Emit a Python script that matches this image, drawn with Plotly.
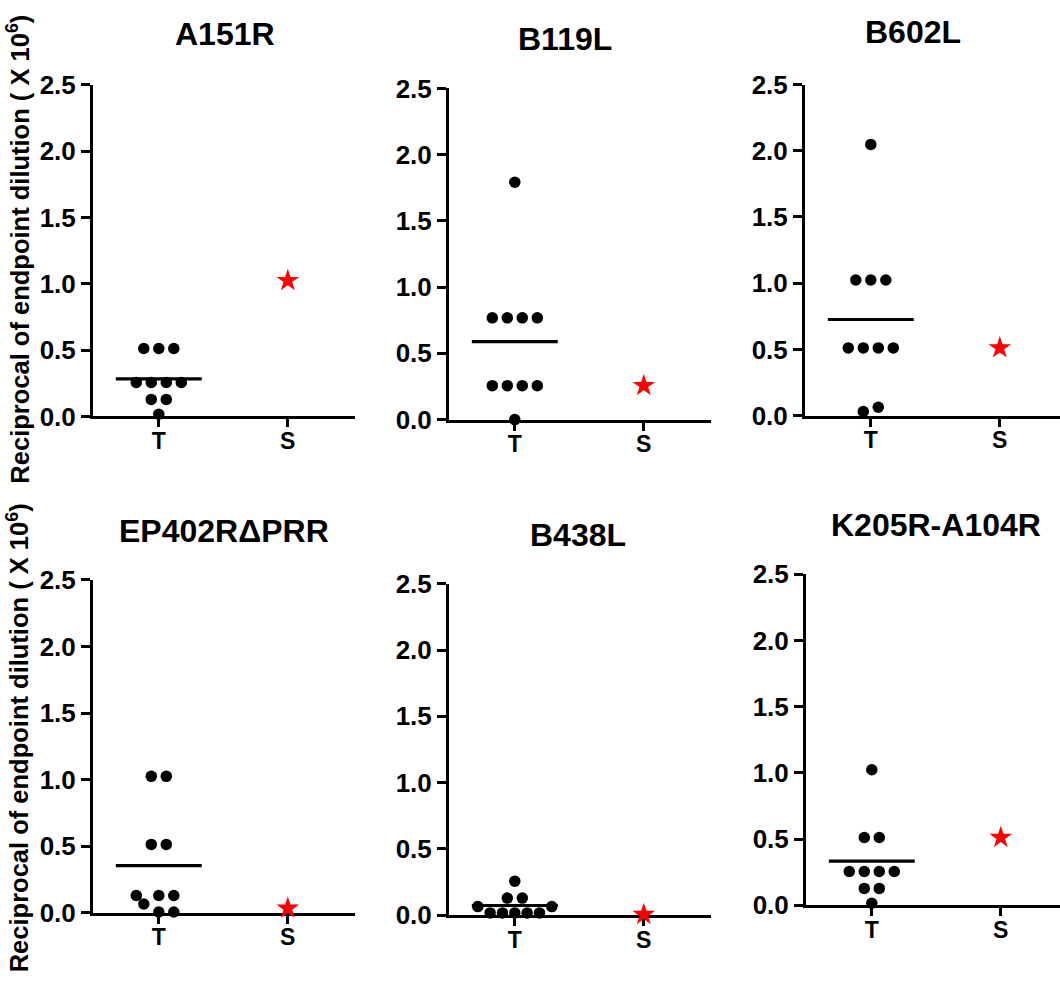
import numpy as np
import plotly.graph_objects as go

# ---------------- data ----------------
panel_titles = ["A151R", "B119L", "B602L", "EP402RΔPRR", "B438L", "K205R-A104R"]
group_labels = ["T", "S"]
y_ticks = [0.0, 0.5, 1.0, 1.5, 2.0, 2.5]

t_A151R = [0.512, 0.512, 0.512, 0.256, 0.256, 0.256, 0.256, 0.128, 0.128, 0.016]
s_A151R = [1.024]
t_B119L = [1.792, 0.768, 0.768, 0.768, 0.768, 0.256, 0.256, 0.256, 0.256, 0.0]
s_B119L = [0.256]
t_B602L = [2.048, 1.024, 1.024, 1.024, 0.512, 0.512, 0.512, 0.512, 0.064, 0.032]
s_B602L = [0.512]
t_EP402R = [1.024, 1.024, 0.512, 0.512, 0.128, 0.128, 0.128, 0.064, 0.004, 0.004]
s_EP402R = [0.032]
t_B438L = [0.256, 0.128, 0.128, 0.064, 0.064, 0.016, 0.016, 0.016, 0.016, 0.016]
s_B438L = [0.004]
t_K205R = [1.024, 0.512, 0.512, 0.256, 0.256, 0.256, 0.256, 0.128, 0.128, 0.016]
s_K205R = [0.512]

t_values = [t_A151R, t_B119L, t_B602L, t_EP402R, t_B438L, t_K205R]
s_values = [s_A151R, s_B119L, s_B602L, s_EP402R, s_B438L, s_K205R]

# ---------------- layout (pixels) ----------------
W, H = 1060, 986
# (y-axis x, x-axis right end, y of 2.5, y of 0)
boxes = [
    (93, 355, 72, 414),
    (449, 711, 75.7, 417.3),
    (805, 1060, 71.7, 413.3),
    (93, 355, 582.7, 925.7),
    (449, 711, 586.7, 928.3),
    (806, 1060, 576.7, 918.3),
]
title_pos = [(225, 20), (565, 25), (913, 18), (224, 532), (578, 536), (936, 526)]
PX_PER_UNIT_X = 129.0
X_LEFT = -0.51
FONT = "Liberation Sans, Arial, sans-serif"


def swarm(values, ypx, s=15.0, maxspan=74.0, D=11.0, thr=0.09):
    vals = np.asarray(values, dtype=float)
    order = np.argsort(vals, kind="stable")
    rows = []
    for idx in order:
        if rows and vals[idx] - vals[rows[-1][0]] <= thr:
            rows[-1].append(idx)
        else:
            rows.append([idx])
    placed = []
    offs = np.zeros(len(vals))
    for row in rows:
        n = len(row)
        sp = s if n <= 1 else min(s, maxspan / (n - 1))
        if n % 2:
            slots = [0]
            k = 1
            while len(slots) < n:
                slots += [k, -k]
                k += 1
        else:
            slots = []
            k = 0.5
            while len(slots) < n:
                slots += [-k, k]
                k += 1
        for idx, kk in zip(row, slots[:n]):
            x = kk * sp
            y = vals[idx] * ypx
            sgn = 1.0 if kk >= 0 else -1.0
            while any(np.hypot(x - px, y - py) < D for px, py in placed):
                x += sgn * sp / 2
            placed.append((x, y))
            offs[idx] = x
    return offs / PX_PER_UNIT_X


fig = go.Figure()
for i in range(6):
    x0, x1, yt, yb = boxes[i]
    sfx = "" if i == 0 else str(i + 1)
    xa, ya = "x" + sfx, "y" + sfx
    ypx = (yb - yt) / 2.5
    tv = t_values[i]
    offs = swarm(tv, ypx)
    fig.add_trace(go.Scatter(
        x=0 + offs, y=tv, mode="markers", xaxis=xa, yaxis=ya,
        marker=dict(color="black", size=11.5, line=dict(width=0)),
        cliponaxis=False, showlegend=False, hoverinfo="skip"))
    m = float(np.mean(tv))
    fig.add_trace(go.Scatter(
        x=[-0.333, 0.333], y=[m, m], mode="lines", xaxis=xa, yaxis=ya,
        line=dict(color="black", width=3.2), cliponaxis=False,
        showlegend=False, hoverinfo="skip"))
    sv = s_values[i]
    fig.add_trace(go.Scatter(
        x=[1] * len(sv), y=sv, mode="markers", xaxis=xa, yaxis=ya,
        marker=dict(color="#ff0000", size=17, symbol="star", line=dict(width=0)),
        cliponaxis=False, showlegend=False, hoverinfo="skip"))

    xr = [X_LEFT, X_LEFT + (x1 - x0) / PX_PER_UNIT_X]
    fig.layout["xaxis" + sfx] = dict(
        domain=[x0 / W, x1 / W], range=xr, anchor=ya,
        tickvals=[0, 1], ticktext=group_labels,
        showline=True, linecolor="black", linewidth=3,
        ticks="outside", ticklen=8, tickwidth=3, tickcolor="black",
        ticklabelstandoff=-6,
        showgrid=False, zeroline=False, layer="below traces",
        tickfont=dict(family=FONT, size=23, color="black", weight="bold"),
        fixedrange=True)
    fig.layout["yaxis" + sfx] = dict(
        domain=[1 - yb / H, 1 - yt / H], range=[0, 2.5], anchor=xa,
        tickvals=y_ticks, tickformat=".1f",
        showline=True, linecolor="black", linewidth=3,
        ticks="outside", ticklen=9, tickwidth=3, tickcolor="black",
        showgrid=False, zeroline=False, layer="below traces",
        tickfont=dict(family=FONT, size=26, color="black", weight="bold"),
        fixedrange=True)

    tx, ty = title_pos[i]
    fig.add_annotation(
        x=tx / W, y=1 - ty / H, xref="paper", yref="paper",
        text="<b>" + panel_titles[i] + "</b>", showarrow=False,
        xanchor="center", yanchor="middle",
        font=dict(family=FONT, size=32, color="black"))

ytitle = "<b>Reciprocal of endpoint dilution ( X 10<sup>6</sup>)</b>"
for cy in (242, 746):
    fig.add_annotation(
        x=18 / W, y=1 - cy / H, xref="paper", yref="paper",
        text=ytitle, showarrow=False, textangle=-90,
        xanchor="center", yanchor="middle",
        font=dict(family=FONT, size=25.5, color="black"))

fig.update_layout(
    width=W, height=H, margin=dict(l=0, r=0, t=0, b=0),
    paper_bgcolor="white", plot_bgcolor="white",
    showlegend=False)

fig.write_html("out.html", config={"displayModeBar": False})
